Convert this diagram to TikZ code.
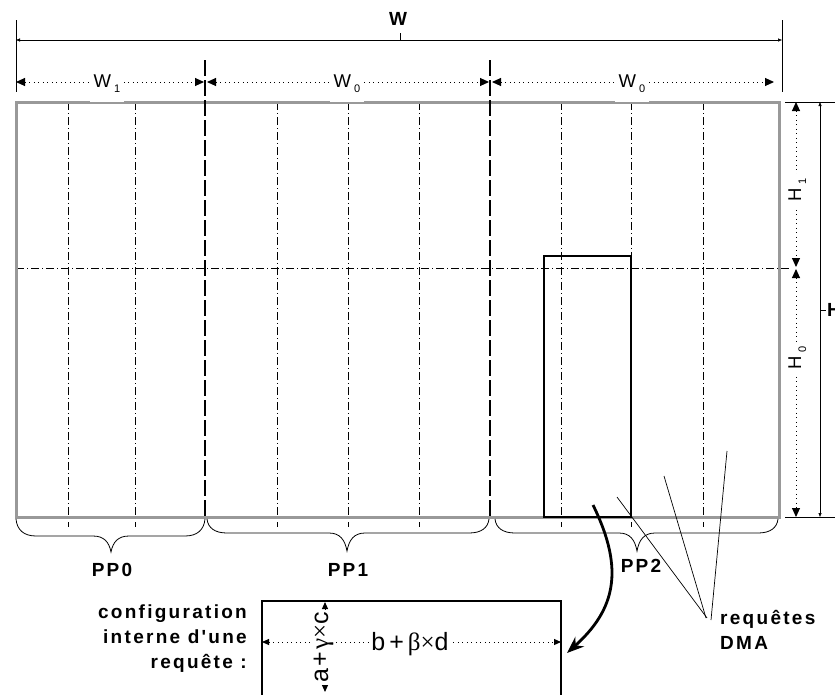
\documentclass[tikz,border=0pt]{standalone}
\usepackage{fontspec}
\setmainfont{Liberation Sans}
\newfontfamily\spaced[LetterSpace=12]{Liberation Sans}
\newfontfamily\grk{Liberation Serif}
\usetikzlibrary{arrows.meta}
\begin{document}
\begin{tikzpicture}[x=1pt,y=-1pt,
  border/.style={draw=black!40, line width=3pt},
  dashdot/.style={draw=black, line width=0.9pt, dash pattern=on 8pt off 3pt on 1pt off 3pt},
  ppline/.style={draw=black, line width=1.5pt, dash pattern=on 16pt off 4pt},
  dimdot/.style={draw=black, line width=1pt, dash pattern=on 1pt off 3.5pt,
     {Triangle[length=9pt,width=8pt]}-{Triangle[length=9pt,width=8pt]}},
  dimdots/.style={draw=black, line width=1pt, dash pattern=on 1pt off 3.5pt,
     {Triangle[length=7pt,width=6pt]}-{Triangle[length=7pt,width=6pt]}},
  dimsolid/.style={draw=black, line width=0.7pt,
     {Triangle[length=4pt,width=3pt]}-{Triangle[length=4pt,width=3pt]}},
  fine/.style={draw=black, line width=0.7pt},
  reqbox/.style={draw=black, line width=1.3pt},
  bracepath/.style={draw=black, line width=0.8pt},
  bigarrow/.style={draw=black, line width=2.8pt, -{Stealth[length=17pt,width=13pt]}},
  wlab/.style={fill=white, inner sep=0pt, text height=14pt, text depth=15pt,
     minimum width=34pt, anchor=base, font=\fontsize{18.5}{18.5}\selectfont},
  hlab/.style={fill=white, inner sep=0pt, text height=14pt, text depth=6pt,
     minimum width=32pt, anchor=base, rotate=90, font=\fontsize{18.5}{18.5}\selectfont},
  mathlab/.style={fill=white, inner sep=1.5pt, anchor=base, font=\fontsize{25}{25}\selectfont},
  boldlab/.style={inner sep=0pt, font=\fontsize{19}{19}\selectfont\bfseries},
  spacedlab/.style={inner sep=0pt, font=\fontsize{19}{19}\selectfont\spaced\bfseries},
]
\useasboundingbox (0,0) rectangle (835,694);
\clip (0,0) rectangle (835,694);

% grid
\foreach \x in {68,135,277,348,419,561,631,703} \draw[dashdot] (\x,102) -- (\x,527);
\draw[dashdot] (16,268) -- (790,268);
\draw[border] (16,102) rectangle (779,517);
\foreach \x in {205,490} \draw[ppline] (\x,60) -- (\x,518);
\draw[reqbox] (544,256) rectangle (631,517);

% overall width W
\coordinate (wL) at (16,40); \coordinate (wR) at (782,40);
\draw[fine] (16,20) -- (16,92);
\draw[fine] (782,20) -- (782,92);
\draw[dimsolid] (wL) -- (wR);
\draw[fine] (400,33) -- (400,40);
\node[boldlab, anchor=base] (W) at (398,25) {W};

% partial widths
\coordinate (a0) at (16,82); \coordinate (a1) at (204,82);
\coordinate (a1b) at (207,82); \coordinate (a2) at (489,82);
\coordinate (a2b) at (492,82); \coordinate (a3) at (774,82);
\draw[dimdot] (a0) -- (a1);
\draw[dimdot] (a1b) -- (a2);
\draw[dimdot] (a2b) -- (a3);
\node[wlab] (lw1) at (107,87) {W\hspace{3pt}\raisebox{-5pt}{\fontsize{11}{11}\selectfont 1}};
\node[wlab] (lw0a) at (347,87) {W\hspace{3pt}\raisebox{-5pt}{\fontsize{11}{11}\selectfont 0}};
\node[wlab] (lw0b) at (632,87) {W\hspace{3pt}\raisebox{-5pt}{\fontsize{11}{11}\selectfont 0}};

% overall height H
\draw[fine] (785,102) -- (835,102);
\draw[fine] (785,517) -- (835,517);
\coordinate (hT) at (820,102); \coordinate (hB) at (820,517);
\draw[dimsolid] (hT) -- (hB);
\draw[fine] (820,310) -- (826,310);
\node[boldlab, anchor=west] (H) at (827,310) {H};

% partial heights
\coordinate (b0) at (796,102); \coordinate (b1) at (796,267);
\coordinate (b1b) at (796,269); \coordinate (b2) at (796,517);
\draw[dimdot] (b0) -- (b1);
\draw[dimdot] (b1b) -- (b2);
\node[hlab] (lh1) at (801,190) {H\hspace{3pt}\raisebox{-5pt}{\fontsize{11}{11}\selectfont 1}};
\node[hlab] (lh0) at (801,358) {H\hspace{3pt}\raisebox{-5pt}{\fontsize{11}{11}\selectfont 0}};

% braces
\draw[bracepath] (16,519) .. controls (17,530) and (24,536) .. (36,536) -- (93,536)
  .. controls (104,536) and (109,542) .. (111,552)
  .. controls (113,542) and (118,536) .. (129,536) -- (185,536)
  .. controls (197,536) and (204,530) .. (205,519);
\draw[bracepath] (207,519) .. controls (208,528) and (215,533) .. (227,533) -- (329,533)
  .. controls (340,533) and (345,540) .. (347,551)
  .. controls (349,540) and (354,533) .. (365,533) -- (469,533)
  .. controls (481,533) and (488,528) .. (489,519);
\draw[bracepath] (495,519) .. controls (496,528) and (503,533) .. (515,533) -- (619,533)
  .. controls (630,533) and (635,540) .. (637,551)
  .. controls (639,540) and (644,533) .. (655,533) -- (758,533)
  .. controls (770,533) and (777,528) .. (778,519);
\node[spacedlab, anchor=base] (pp0) at (112,576) {PP0};
\node[spacedlab, anchor=base] (pp1) at (348,576) {PP1};
\node[spacedlab, anchor=base] (pp2) at (641,572) {PP2};

% DMA request pointers
\coordinate (d1) at (617,497); \coordinate (d2) at (664,476); \coordinate (d3) at (727,451);
\coordinate (e1) at (707,618); \coordinate (e2) at (706,618); \coordinate (e3) at (711,620);
\draw[fine] (d1) -- (e1);
\draw[fine] (d2) -- (e2);
\draw[fine] (d3) -- (e3);
\node[spacedlab, anchor=base west] (dma1) at (720,624) {requêtes};
\node[spacedlab, anchor=base west] (dma2) at (720,649) {DMA};

% configuration box
\draw[reqbox] (262,700) -- (262,601) -- (561,601) -- (561,700);
\coordinate (cL) at (262,642); \coordinate (cR) at (561,642);
\draw[dimdots] (cL) -- (cR);
\coordinate (vT) at (325,602); \coordinate (vB) at (325,692);
\draw[dimdots] (vT) -- (vB);
\node[mathlab] (bd) at (410,650) {b\hspace{4pt}+\hspace{4pt}{\grk β×}d};
\node[mathlab, rotate=90] (ac) at (328,647) {a\hspace{2pt}+\hspace{2pt}{\grk γ×}c};

\node[spacedlab, anchor=base east] (cf1) at (247,618) {configuration};
\node[spacedlab, anchor=base east] (cf2) at (247,643) {interne d'une};
\node[spacedlab, anchor=base east] (cf3) at (247,668) {requête :};

% curved arrow
\coordinate (arrS) at (593,505); \coordinate (arrE) at (567,653);
\draw[bigarrow] (arrS) .. controls (625,570) and (615,610) .. (arrE);
\end{tikzpicture}
\end{document}
